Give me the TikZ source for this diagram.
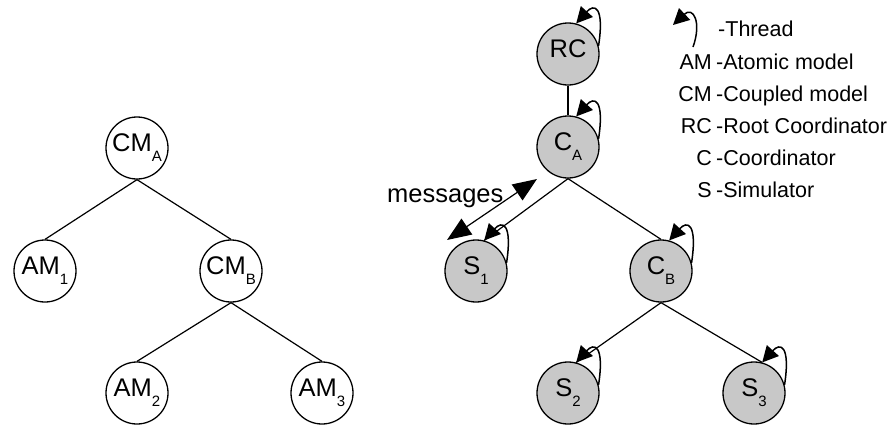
\documentclass[tikz,border=0pt]{standalone}
\usepackage{fontspec}
\setmainfont{Liberation Sans}
\usetikzlibrary{arrows.meta}
\definecolor{simgray}{RGB}{200,200,200}
% node label: name with a lowered index
\newcommand{\nlab}[2]{\fontsize{25.5}{25.5}\selectfont #1\raisebox{-10pt}{\fontsize{15}{15}\selectfont #2}}

\begin{document}
\begin{tikzpicture}[x=1pt,y=-1pt,
  model/.style={circle, draw, line width=1.3pt, minimum size=62pt, inner sep=0pt, fill=white},
  proc/.style={model, fill=simgray},
  edge/.style={line width=1.2pt},
  thread/.style={line width=1.5pt, -{Triangle[length=16pt,width=16pt]}},
  msg/.style={line width=1.2pt, {Triangle[length=24pt,width=19pt]}-{Triangle[length=24pt,width=19pt]}},
  legtext/.style={font=\fontsize{21.5}{21.5}\selectfont, inner sep=0pt}]
\useasboundingbox (0,0) rectangle (896,429);

% model hierarchy
\node[model] (CMA) at (137,148) {\nlab{CM}{A}};
\node[model] (AM1) at (45,271)  {\nlab{AM}{1}};
\node[model] (CMB) at (231,271) {\nlab{CM}{B}};
\node[model] (AM2) at (137,393) {\nlab{AM}{2}};
\node[model] (AM3) at (322,393) {\nlab{AM}{3}};
\draw[edge] (CMA.south) -- (AM1.north);
\draw[edge] (CMA.south) -- (CMB.north);
\draw[edge] (CMB.south) -- (AM2.north);
\draw[edge] (CMB.south) -- (AM3.north);

% simulator hierarchy
\node[proc] (RC) at (568,54)  {\nlab{RC}{}};
\node[proc] (CA) at (568,147) {\nlab{C}{A}};
\node[proc] (S1) at (476,271) {\nlab{S}{1}};
\node[proc] (CB) at (661,271) {\nlab{C}{B}};
\node[proc] (S2) at (568,393) {\nlab{S}{2}};
\node[proc] (S3) at (754,393) {\nlab{S}{3}};
\draw[edge] (RC.south) -- (CA.north);
\draw[edge] (CA.south) -- (S1.75);
\draw[edge] (CA.south) -- (CB.north);
\draw[edge] (CB.south) -- (S2.75);
\draw[edge] (CB.south) -- (S3.75);

% one thread per processor
\foreach \n in {RC,CA,S1,CB,S2,S3}
  \draw[thread] (\n.15) .. controls +(6,-40) and +(18,-20) .. (\n.75);

% message exchange
\coordinate (msgA) at (537,179);
\coordinate (msgB) at (447,240);
\draw[msg] (msgA) -- (msgB);
\node[font=\fontsize{25.5}{25.5}\selectfont, inner sep=0pt, anchor=base west] (msgtxt) at (387,202) {messages};

% legend
\coordinate (thrA) at (693,47);
\coordinate (thrB) at (673,25);
\draw[thread] (thrA) .. controls (702,22) and (693,6) .. (thrB);
\node[legtext, anchor=base west] (thr) at (718,36) {-Thread};
\node[legtext, anchor=base east] (kAM) at (712,69)  {AM};
\node[legtext, anchor=base west] (dAM) at (716,69)  {-Atomic model};
\node[legtext, anchor=base east] (kCM) at (712,101) {CM};
\node[legtext, anchor=base west] (dCM) at (716,101) {-Coupled model};
\node[legtext, anchor=base east] (kRC) at (712,133) {RC};
\node[legtext, anchor=base west] (dRC) at (716,133) {-Root Coordinator};
\node[legtext, anchor=base east] (kC)  at (712,165) {C};
\node[legtext, anchor=base west] (dC)  at (716,165) {-Coordinator};
\node[legtext, anchor=base east] (kS)  at (712,197) {S};
\node[legtext, anchor=base west] (dS)  at (716,197) {-Simulator};
\end{tikzpicture}
\end{document}
